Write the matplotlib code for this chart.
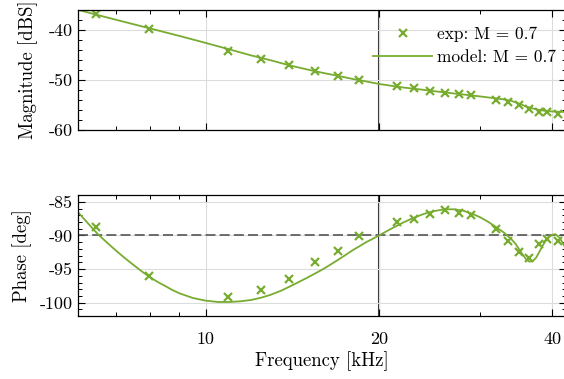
import numpy as np
import matplotlib
matplotlib.use("Agg")
import matplotlib.pyplot as plt
from matplotlib.ticker import FixedLocator, NullFormatter, MultipleLocator

plt.rcParams['font.family'] = ['cmr10', 'DejaVu Serif']
plt.rcParams['axes.unicode_minus'] = False
plt.rcParams['font.size'] = 13
plt.rcParams['axes.labelsize'] = 13.5

green = '#77AC30'

# Measured points (kHz)
f_exp = [6.46, 7.96, 10.95, 12.47, 13.95, 15.5, 17.0, 18.46, 21.5, 23.0,
         24.5, 26.0, 27.5, 28.9, 32.0, 33.5, 35.0, 36.4, 38.0, 39.2, 41.0]
mag_exp = [-36.8, -39.9, -44.2, -45.8, -47.1, -48.3, -49.2, -50.1, -51.2, -51.6,
           -52.2, -52.6, -52.9, -53.1, -54.0, -54.4, -55.1, -55.8, -56.4, -56.4, -56.8]
phase_exp = [-88.7, -96.1, -99.1, -98.1, -96.5, -93.9, -92.3, -90.1, -88.0, -87.6,
             -86.8, -86.2, -86.7, -87.0, -89.1, -90.8, -92.4, -93.3, -91.3, -90.5, -90.8]

# Model curves
f_mag = [6, 7, 8, 9, 10, 11, 12, 13, 14, 15, 16, 17, 18, 19, 20, 22, 24, 26,
         28, 30, 32, 33, 34, 35, 36, 37, 38, 39, 40, 42]
mag_model = [-36.0, -38.0, -39.7, -41.2, -42.6, -43.9, -45.1, -46.1, -47.1, -47.9,
             -48.6, -49.2, -49.8, -50.3, -50.8, -51.5, -52.0, -52.5, -52.9, -53.3,
             -53.7, -53.9, -54.2, -54.7, -55.3, -55.7, -56.0, -56.2, -56.3, -56.4]

f_ph = [6.0, 6.25, 6.5, 6.75, 7.0, 7.25, 7.5, 7.75, 8.0, 8.25, 8.5, 8.75, 9.0, 9.5,
        10.0, 10.5, 11.0, 11.5, 12.0, 12.5, 13.0, 13.5, 14.0, 14.5, 15.0, 15.5,
        16.0, 16.5, 17.0, 17.5, 18.0, 18.5, 19.0, 19.5, 20.0, 21.0, 22.0, 23.0,
        24.0, 25.0, 26.0, 27.0, 28.0, 29.0, 30.0, 31.0, 32.0, 33.0, 34.0, 34.5,
        35.0, 35.5, 36.0, 36.5, 37.0, 37.5, 38.0, 38.5, 39.0, 39.5, 40.0, 40.5,
        41.0, 41.5, 42.0]
phase_model = [-86.5, -88.2, -89.8, -91.1, -92.3, -93.4, -94.4, -95.35, -96.2, -96.9,
               -97.5, -98.1, -98.6, -99.3, -99.7, -99.9, -99.9, -99.8, -99.6, -99.25,
               -98.8, -98.25, -97.6, -96.95, -96.3, -95.65, -95.0, -94.3, -93.6, -92.9,
               -92.2, -91.6, -91.0, -90.5, -90.0, -89.0, -88.1, -87.35, -86.75, -86.35,
               -86.1, -86.1, -86.3, -86.75, -87.3, -88.0, -88.8, -89.6, -90.6, -91.2,
               -92.0, -92.8, -93.5, -93.9, -93.8, -93.3, -92.4, -91.5, -90.7, -90.2,
               -89.9, -89.8, -90.2, -90.8, -91.6]

xlim = (6.0, 42.2)
xticks = [10, 20, 40]
xticklabels = ['10', '20', '40']
xminor = [6, 7, 8, 9, 30]

fig = plt.figure(figsize=(5.64, 3.79), dpi=100)
ax1 = fig.add_axes([0.138, 0.657, 0.865, 0.317])
ax2 = fig.add_axes([0.138, 0.166, 0.865, 0.319])


def style(ax):
    ax.set_xscale('log')
    ax.set_xlim(*xlim)
    ax.xaxis.set_major_locator(FixedLocator(xticks))
    ax.xaxis.set_minor_locator(FixedLocator(xminor))
    ax.xaxis.set_minor_formatter(NullFormatter())
    ax.tick_params(which='both', direction='in', top=True, right=True)
    ax.tick_params(which='major', length=5, width=0.8)
    ax.tick_params(which='minor', length=3, width=0.7)
    ax.grid(True, which='major', color='#dcdcdc', lw=0.8)
    for s in ax.spines.values():
        s.set_linewidth(0.9)
    ax.axvline(20, color='#333333', lw=1.5, zorder=1.5)


# Magnitude
style(ax1)
ax1.plot(f_exp, mag_exp, 'x', color=green, ms=5.5, mew=1.6, label='exp: M = 0.7')
ax1.plot(f_mag, mag_model, '-', color=green, lw=1.3, label='model: M = 0.7')
ax1.set_ylim(-60, -36)
ax1.set_yticks([-60, -50, -40])
ax1.set_yticklabels(['-60', '-50', '-40'])
ax1.yaxis.set_minor_locator(MultipleLocator(2))
ax1.set_xticklabels([])
ax1.set_ylabel('Magnitude [dBS]', labelpad=8)
ax1.legend(loc='upper right', bbox_to_anchor=(1.006, 0.96), frameon=False,
           fontsize=12.5, handlelength=3.4, handletextpad=0.3, labelspacing=0.45,
           borderaxespad=0.3)

# Phase
style(ax2)
ax2.axhline(-90, color='#555555', lw=1.2, dashes=(6, 2.5), zorder=1.6)
ax2.plot(f_exp, phase_exp, 'x', color=green, ms=5.5, mew=1.6)
ax2.plot(f_ph, phase_model, '-', color=green, lw=1.3)
ax2.set_ylim(-102, -84)
ax2.set_yticks([-100, -95, -90, -85])
ax2.set_yticklabels(['-100', '-95', '-90', '-85'])
ax2.yaxis.set_minor_locator(MultipleLocator(1))
ax2.set_xticklabels(xticklabels)
ax2.tick_params(axis='x', pad=11)
ax2.set_ylabel('Phase [deg]', labelpad=6)
ax2.set_xlabel('Frequency [kHz]', labelpad=3)

fig.savefig('out.png', dpi=100)
